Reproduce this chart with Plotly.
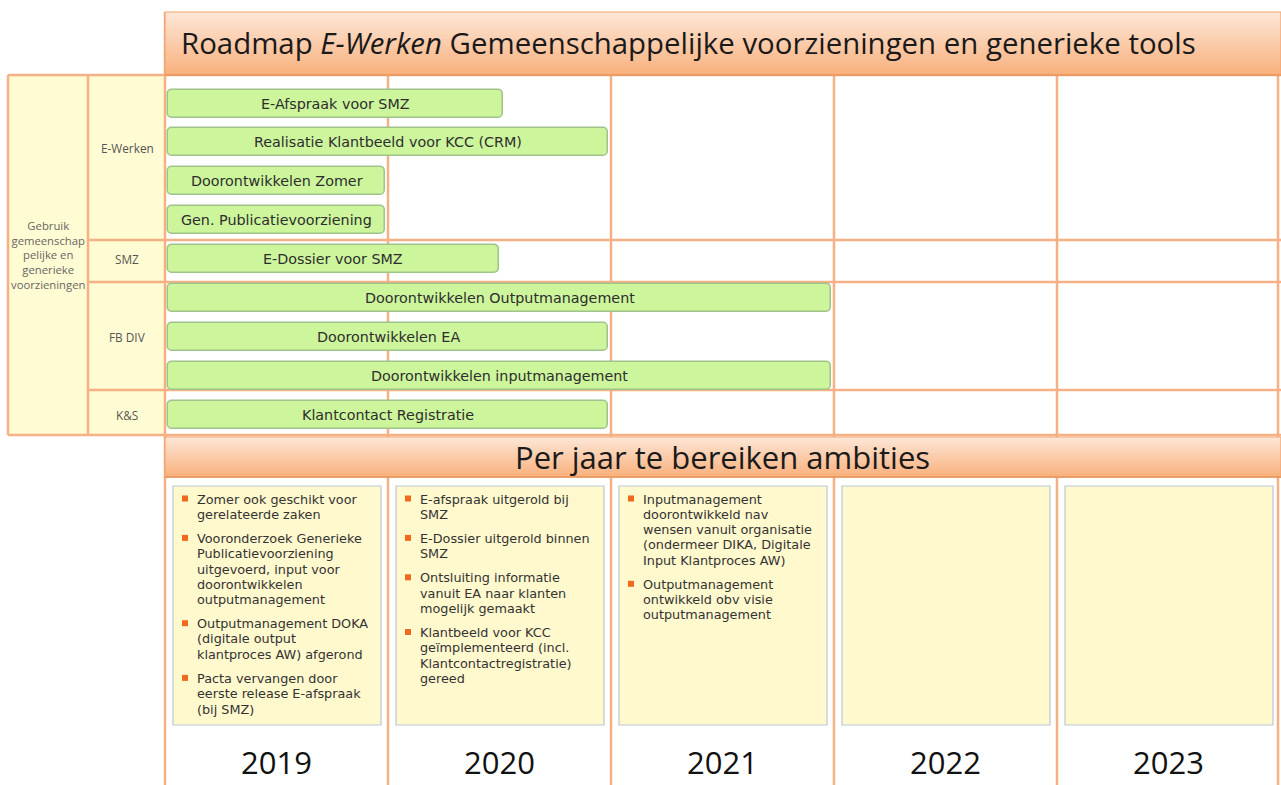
import plotly.graph_objects as go

W, H = 1281, 785

# ---------------- data ----------------
years = [2019, 2020, 2021, 2022, 2023]
groups = ["E-Werken", "SMZ", "FB DIV", "K&S"]
task_group = [0, 0, 0, 0, 1, 2, 2, 2, 3]
tasks = [
    "E-Afspraak voor SMZ",
    "Realisatie Klantbeeld voor KCC (CRM)",
    "Doorontwikkelen Zomer",
    "Gen. Publicatievoorziening",
    "E-Dossier voor SMZ",
    "Doorontwikkelen Outputmanagement",
    "Doorontwikkelen EA",
    "Doorontwikkelen inputmanagement",
    "Klantcontact Registratie",
]
task_start = [2019.0, 2019.0, 2019.0, 2019.0, 2019.0, 2019.0, 2019.0, 2019.0, 2019.0]
task_end = [2020.53, 2021.0, 2020.0, 2020.0, 2020.51, 2022.0, 2021.0, 2022.0, 2021.0]

title_plain = "Roadmap "
title_italic = "E-Werken"
title_rest = " Gemeenschappelijke voorzieningen en generieke tools"
subtitle = "Per jaar te bereiken ambities"
side_label = ["Gebruik", "gemeenschap", "pelijke en", "generieke", "voorzieningen"]

ambitions_2019 = [
    ["Zomer ook geschikt voor", "gerelateerde zaken"],
    ["Vooronderzoek Generieke", "Publicatievoorziening", "uitgevoerd, input voor",
     "doorontwikkelen", "outputmanagement"],
    ["Outputmanagement DOKA", "(digitale output", "klantproces AW) afgerond"],
    ["Pacta vervangen door", "eerste release E-afspraak", "(bij SMZ)"],
]
ambitions_2020 = [
    ["E-afspraak uitgerold bij", "SMZ"],
    ["E-Dossier uitgerold binnen", "SMZ"],
    ["Ontsluiting informatie", "vanuit EA naar klanten", "mogelijk gemaakt"],
    ["Klantbeeld voor KCC", "geïmplementeerd (incl.", "Klantcontactregistratie)", "gereed"],
]
ambitions_2021 = [
    ["Inputmanagement", "doorontwikkeld nav", "wensen vanuit organisatie",
     "(ondermeer DIKA, Digitale", "Input Klantproces AW)"],
    ["Outputmanagement", "ontwikkeld obv visie", "outputmanagement"],
]
ambitions_2022 = []
ambitions_2023 = []
ambitions = [ambitions_2019, ambitions_2020, ambitions_2021, ambitions_2022, ambitions_2023]

# ---------------- layout geometry ----------------
COL0_PX = 165.0
PX_PER_YEAR = 223.0
ROW0_PX = 103.5
ROW_PITCH = 38.9


def yr(px):
    return years[0] + (px - COL0_PX) / PX_PER_YEAR


def rw(py):
    return (py - ROW0_PX) / ROW_PITCH


def xp(px):
    return px / W


def yp(py):
    return 1 - py / H


ORANGE_LINE = "#f5b185"
ORANGE_EDGE = "#f3a36c"
YELLOW = "#fffbd2"
BOX_YELLOW = "#fff9cd"
BOX_EDGE = "#b9c9d6"
GREEN = "#ccf59c"
GREEN_EDGE = "#a0c38a"
TEXT = "#2e2e2e"

shapes = []
annotations = []


def rect(x0, y0, x1, y1, fill, line=None, lw=0, layer="below"):
    shapes.append(dict(type="rect", xref="paper", yref="paper",
                       x0=xp(x0), x1=xp(x1), y0=yp(y0), y1=yp(y1),
                       fillcolor=fill, layer=layer,
                       line=dict(color=line or fill, width=lw)))


def hline(x0, x1, y, color=ORANGE_LINE, w=2.5):
    shapes.append(dict(type="line", xref="paper", yref="paper",
                       x0=xp(x0), x1=xp(x1), y0=yp(y), y1=yp(y),
                       line=dict(color=color, width=w), layer="below"))


def vline_px(x, y0, y1, color=ORANGE_LINE, w=2.5):
    shapes.append(dict(type="line", xref="paper", yref="paper",
                       x0=xp(x), x1=xp(x), y0=yp(y0), y1=yp(y1),
                       line=dict(color=color, width=w), layer="below"))


def mix(c1, c2, t):
    a = [int(c1[i:i + 2], 16) for i in (1, 3, 5)]
    b = [int(c2[i:i + 2], 16) for i in (1, 3, 5)]
    return "rgb(%d,%d,%d)" % tuple(round(a[k] + (b[k] - a[k]) * t) for k in range(3))


def gradient_box(x0, y0, x1, y1, ctop, cbot, n=30):
    h = (y1 - y0) / n
    for i in range(n):
        rect(x0, y0 + i * h, x1, y0 + (i + 1) * h + 0.6, mix(ctop, cbot, i / (n - 1)))
    shapes.append(dict(type="rect", xref="paper", yref="paper",
                       x0=xp(x0), x1=xp(x1), y0=yp(y0), y1=yp(y1),
                       fillcolor="rgba(0,0,0,0)", layer="below",
                       line=dict(color=ORANGE_EDGE, width=1.2)))
    hline(x0, x1, y1, color="#e9965e", w=1.5)


# left panel background
rect(8, 75, 165, 435, YELLOW)
# grid: horizontal lines
GRID_TOP, GRID_BOT = 75, 435
GROUP_BOUNDS = [240, 282, 390]
hline(8, W, GRID_TOP)
hline(8, W, GRID_BOT)
for gy in GROUP_BOUNDS:
    hline(88, W, gy)
vline_px(8, GRID_TOP, GRID_BOT)
vline_px(88, GRID_TOP, GRID_BOT)
vline_px(W - 3, GRID_TOP, H)
# column lines at year boundaries
for y in years:
    shapes.append(dict(type="line", xref="x", yref="paper", x0=y, x1=y,
                       y0=yp(12 if y == years[0] else GRID_TOP), y1=0,
                       line=dict(color=ORANGE_LINE, width=2.5), layer="below"))

# headers
gradient_box(COL0_PX, 12, W, 75, "#fde6d6", "#f9b17e")
gradient_box(COL0_PX, 437, W, 477, "#fde6d6", "#f9b17e")

# ambition boxes
for y in years:
    shapes.append(dict(type="rect", xref="x", yref="paper",
                       x0=y + 8 / PX_PER_YEAR, x1=y + 1 - 7 / PX_PER_YEAR,
                       y0=yp(486), y1=yp(725), fillcolor=BOX_YELLOW, layer="below",
                       line=dict(color=BOX_EDGE, width=1.2)))

# title texts
annotations.append(dict(xref="paper", yref="paper", x=xp(179), y=yp(43),
                        xanchor="left", yanchor="middle", showarrow=False,
                        text=title_plain + "<i>" + title_italic + "</i>" + title_rest,
                        font=dict(family="Open Sans", size=29.4, color="#1a1a1a")))
annotations.append(dict(xref="x", yref="paper", x=(years[0] + years[-1] + 1) / 2, y=yp(457),
                        xanchor="center", yanchor="middle", showarrow=False,
                        text=subtitle,
                        font=dict(family="Open Sans", size=31, color="#1a1a1a")))

# side labels
annotations.append(dict(xref="paper", yref="paper", x=xp(48), y=yp(255),
                        xanchor="center", yanchor="middle", showarrow=False,
                        text="<br>".join(side_label), align="center",
                        font=dict(family="Open Sans", size=11.3, color="#666666")))
group_rows = {}
for i, g in enumerate(task_group):
    group_rows.setdefault(g, []).append(i)
for g, name in enumerate(groups):
    rows = group_rows[g]
    annotations.append(dict(xref="paper", yref="y", x=xp(127),
                            y=(rows[0] + rows[-1]) / 2 - (0.35 if g == 0 else 0),
                            xanchor="center", yanchor="middle", showarrow=False,
                            text=name,
                            font=dict(family="Open Sans", size=11.8, color="#555555")))

# bars
GAP = 0.013
bar_base = [s + GAP for s in task_start]
bar_len = [(e - GAP) - (s + GAP) for s, e in zip(task_start, task_end)]
row_idx = list(range(len(tasks)))
fig = go.Figure()
fig.add_trace(go.Bar(
    orientation="h", y=row_idx, x=bar_len, base=bar_base, width=0.72,
    marker=dict(color=GREEN, line=dict(color=GREEN_EDGE, width=1.5), cornerradius=5),
    hoverinfo="skip", showlegend=False))
for i, t in enumerate(tasks):
    annotations.append(dict(xref="x", yref="y", x=(task_start[i] + task_end[i]) / 2, y=i,
                            xanchor="center", yanchor="middle", showarrow=False, text=t,
                            font=dict(family="DejaVu Sans", size=14.3, color=TEXT)))

# ambitions bullets
LINE = 15.3
BGAP = 8.8
for y, items in zip(years, ambitions):
    cy = 499.0
    for lines in items:
        bx = y + 20 / PX_PER_YEAR
        shapes.append(dict(type="rect", xref="x", yref="paper",
                           x0=bx - 3 / PX_PER_YEAR, x1=bx + 3 / PX_PER_YEAR,
                           y0=yp(cy - 3.5), y1=yp(cy + 2.5), fillcolor="#f0691e",
                           line=dict(width=0), layer="above"))
        for k, ln in enumerate(lines):
            annotations.append(dict(xref="x", yref="paper", x=y + 30 / PX_PER_YEAR,
                                    y=yp(cy + k * LINE), xanchor="left", yanchor="middle",
                                    showarrow=False, text=ln,
                                    font=dict(family="DejaVu Sans", size=12.8, color="#333333")))
        cy += len(lines) * LINE + BGAP

# year labels
for y in years:
    annotations.append(dict(xref="x", yref="paper", x=y + 0.5, y=yp(762),
                            xanchor="center", yanchor="middle", showarrow=False,
                            text=str(y),
                            font=dict(family="Open Sans", size=31, color="#111111")))

fig.update_layout(
    width=W, height=H, margin=dict(l=0, r=0, t=0, b=0),
    paper_bgcolor="white", plot_bgcolor="white",
    xaxis=dict(range=[yr(0), yr(W)], visible=False, fixedrange=True),
    yaxis=dict(range=[rw(H), rw(0)], visible=False, fixedrange=True),
    shapes=shapes, annotations=annotations, bargap=0,
)
fig.write_html("out.html", config={"displayModeBar": False},
               post_script="document.body.style.margin='0';document.body.style.overflow='hidden';")
